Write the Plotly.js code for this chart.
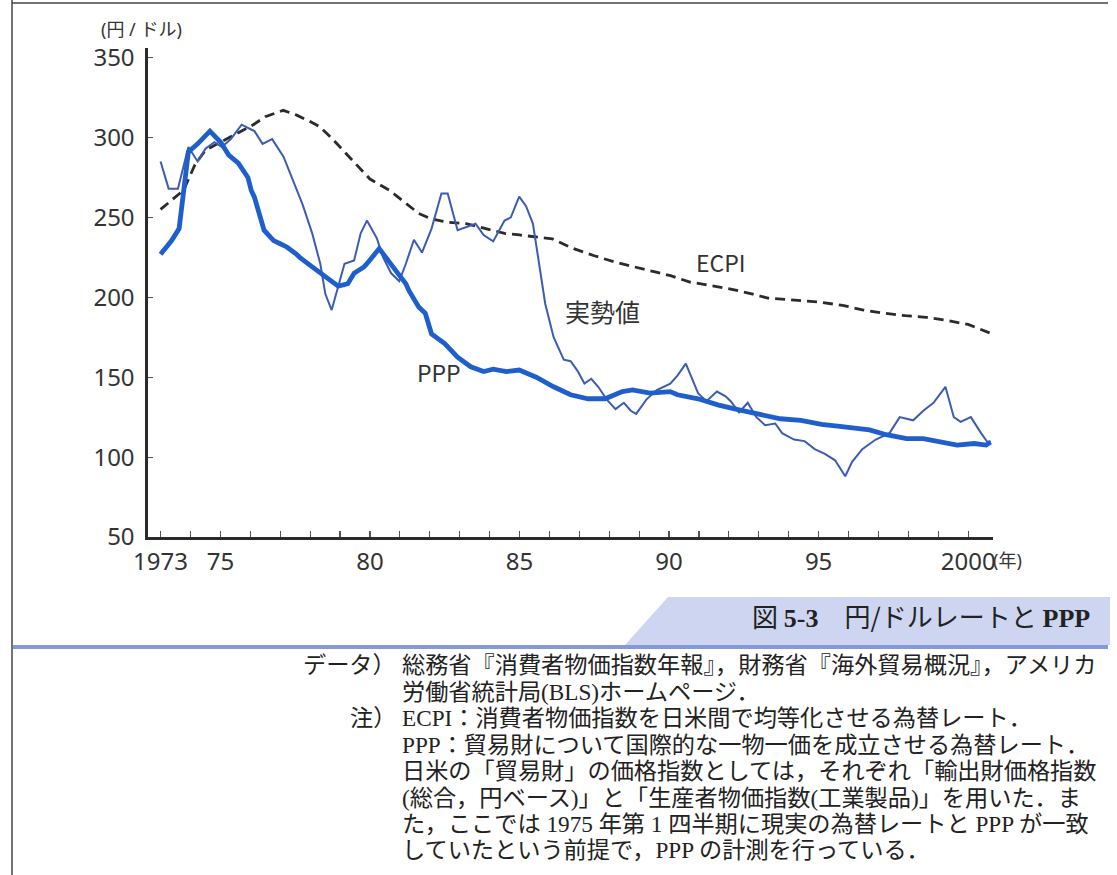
<!DOCTYPE html>
<html><head><meta charset="utf-8">
<script src="https://cdn.plot.ly/plotly-3.0.1.min.js"></script>
<style>html,body{margin:0;padding:0;background:#fff;} #chart{width:1117px;height:875px;}</style>
</head><body><div id="chart"></div>
<script>
// ---- data ----
const actualYears = [1973.0,1973.27,1973.58,1973.93,1974.24,1974.5,1974.8,1975.05,1975.35,1975.71,1976.03,1976.14,1976.41,1976.73,1977.11,1977.43,1977.75,1978.07,1978.34,1978.51,1978.72,1979.15,1979.47,1979.69,1979.9,1980.23,1980.44,1980.71,1980.98,1981.2,1981.47,1981.74,1982.06,1982.39,1982.6,1982.93,1983.25,1983.53,1983.8,1984.12,1984.5,1984.71,1984.99,1985.22,1985.45,1985.68,1985.86,1986.14,1986.48,1986.71,1986.94,1987.17,1987.4,1987.63,1987.92,1988.21,1988.49,1988.72,1988.9,1989.24,1989.59,1990.04,1990.28,1990.56,1990.97,1991.25,1991.6,1991.89,1992.06,1992.34,1992.63,1992.92,1993.21,1993.55,1993.78,1994.18,1994.53,1994.87,1995.21,1995.55,1995.89,1996.12,1996.46,1996.91,1997.37,1997.71,1998.16,1998.5,1998.84,1999.24,1999.52,1999.75,2000.09,2000.43,2000.66,2000.75];
const actualValues = [285,268,268,294,285,293,297,294,299,308,305,304,296,299,288,273,258,240,221,202,192,221,223,240,248,237,225,215,210,221,236,228,243,265,265,242,244,246,239,235,248,250,263,257,246,219,196,175,161,160,154,146,149,144,136,130,134,129,127,136,142,146,151,158.5,140,135,141,138,135,128,134,125,120,121,115,111,110,105,102,98,88,97,105,111,115,125,123,129,134,144,125,122,125,115,109,110];

const pppYears = [1973.0,1973.37,1973.62,1973.93,1974.24,1974.65,1975.01,1975.28,1975.6,1975.92,1976.03,1976.14,1976.46,1976.78,1977.0,1977.22,1977.54,1977.65,1978.07,1978.51,1978.94,1979.26,1979.47,1979.8,1979.9,1980.31,1980.66,1980.77,1981.2,1981.31,1981.63,1981.85,1982.06,1982.5,1982.93,1983.37,1983.8,1984.12,1984.56,1984.99,1985.56,1986.14,1986.71,1987.29,1987.86,1988.44,1988.78,1989.36,1990.04,1990.28,1990.97,1991.66,1992.34,1993.03,1993.72,1994.41,1995.1,1995.78,1996.7,1997.26,1997.94,1998.5,1999.07,1999.63,2000.2,2000.6,2000.75];
const pppValues = [227,235.5,243,291,296,304,297,289,284,275,267,262.5,242,235.5,233.5,231.5,227,225,219,212.5,207,208.5,215,219,221,230.5,221,219,208.5,204,194,190,177,171,162.5,156.5,153.5,155,153.5,154.5,150,144,139,136.5,136.5,141,142,140,141,139,136.5,132.5,129.5,126.5,124,123,120.5,119,117,114,111.5,111.5,109.5,107.5,108.5,107.5,109.5];

const ecpiYears = [1973.0,1973.77,1974.15,1974.5,1974.9,1975.28,1975.6,1976.1,1976.5,1977.1,1977.55,1978.0,1978.3,1978.7,1979.2,1979.5,1980.0,1980.65,1981.1,1981.63,1982.06,1982.6,1983.25,1983.9,1984.5,1985.0,1985.6,1986.1,1986.8,1987.5,1988.2,1988.9,1989.5,1990.05,1990.7,1991.5,1992.1,1992.8,1993.3,1994.0,1995.0,1995.8,1996.5,1997.2,1997.9,1998.6,1999.3,2000.0,2000.75];
const ecpiValues = [255,267,283,292,296,300,303,308,313,317,314,310,307,300,290,284,274,267,260.5,252.5,249,247,246,243,240,239,237.5,236.5,230.5,226,222,219,216,213.5,209.5,207,205,202,199.5,198.5,197,195,192,190,188.5,187.5,185.5,183,177.5];

const yTickValues = [50,100,150,200,250,300,350];
const xTickYears = [1973,1974,1975,1976,1977,1978,1979,1980,1981,1982,1983,1984,1985,1986,1987,1988,1989,1990,1991,1992,1993,1994,1995,1996,1997,1998,1999,2000];
const xTickLabelMap = {1973:'1973',1975:'75',1980:'80',1985:'85',1990:'90',1995:'95',2000:'2000'};

const seriesNames = {ecpi:'ECPI', actual:'実勢値', ppp:'PPP'};
const yUnitLabel = '(円 / ドル)';
const xUnitLabel = '(年)';
const captionText = '図 <span style="font-family:Liberation Serif;font-weight:bold">5-3</span>　円/ドルレートと <span style="font-family:Liberation Serif;font-weight:bold">PPP</span>';
const notePrefixes = [['データ）',0],['注）',2]];
const noteLines = [
  '総務省『消費者物価指数年報』，財務省『海外貿易概況』，アメリカ',
  '労働省統計局(BLS)ホームページ．',
  'ECPI：消費者物価指数を日米間で均等化させる為替レート．',
  'PPP：貿易財について国際的な一物一価を成立させる為替レート．',
  '日米の「貿易財」の価格指数としては，それぞれ「輸出財価格指数',
  '(総合，円ベース)」と「生産者物価指数(工業製品)」を用いた．ま',
  'た，ここでは 1975 年第 1 四半期に現実の為替レートと PPP が一致',
  'していたという前提で，PPP の計測を行っている．'
];

// ---- layout helpers (pixel -> paper) ----
const W=1117, H=875, L=148, R=993, T=48, B=537;
const px = x => (x-L)/(R-L);
const py = y => (B-y)/(B-T);
const sans = 'Noto Sans CJK JP, Noto Sans, sans-serif';
const latin = 'Noto Sans, Noto Sans CJK JP, sans-serif';
const notesFont = 'Liberation Serif, Noto Sans CJK JP, serif';
const txt = '#333';

const traces = [
  {x: ecpiYears, y: ecpiValues, mode:'lines', name: seriesNames.ecpi,
   line:{color:'#2b2b2b', width:2.8, dash:'10px,6px'}},
  {x: actualYears, y: actualValues, mode:'lines', name: seriesNames.actual,
   line:{color:'#3c5cb4', width:2}},
  {x: pppYears, y: pppValues, mode:'lines', name: seriesNames.ppp,
   line:{color:'#1f5fcc', width:4.8}}
];

const annotations = [
  {xref:'x', yref:'y', x:1991.74, y:222, text:seriesNames.ecpi, showarrow:false, font:{family:sans,size:23,color:txt}},
  {xref:'x', yref:'y', x:1987.79, y:191.4, text:seriesNames.actual, showarrow:false, font:{family:sans,size:25,color:txt}},
  {xref:'x', yref:'y', x:1982.31, y:153.3, text:seriesNames.ppp, showarrow:false, font:{family:sans,size:23,color:txt}},
  {xref:'paper', yref:'paper', x:px(141), y:py(29), xanchor:'center', yanchor:'middle', text:yUnitLabel, showarrow:false, font:{family:latin,size:18,color:txt}},
  {xref:'paper', yref:'paper', x:px(991), y:py(560), xanchor:'left', yanchor:'middle', text:xUnitLabel, showarrow:false, font:{family:latin,size:18,color:txt}},
  {xref:'paper', yref:'paper', x:px(1092), y:py(615), xanchor:'right', yanchor:'middle', text:captionText, showarrow:false, font:{family:sans,size:26,color:'#222'}}
];
const lineY = [665,692,718,745,771,798,824,850];
noteLines.forEach((s,i)=>annotations.push({xref:'paper', yref:'paper', x:px(400), y:py(lineY[i]), xanchor:'left', yanchor:'middle', text:s, showarrow:false, font:{family:notesFont,size:23.2,color:'#222'}}));
notePrefixes.forEach(([s,i])=>annotations.push({xref:'paper', yref:'paper', x:px(398), y:py(lineY[i]), xanchor:'right', yanchor:'middle', text:s, showarrow:false, font:{family:notesFont,size:23.2,color:'#222'}}));

const shapes = [
  {type:'path', xref:'paper', yref:'paper', layer:'below',
   path:`M ${px(625)},${py(645)} L ${px(668)},${py(597)} L ${px(1110)},${py(597)} L ${px(1110)},${py(645)} Z`,
   fillcolor:'#cdd5f1', line:{width:0}},
  {type:'line', xref:'paper', yref:'paper', x0:px(13), x1:px(1108), y0:py(647), y1:py(647), line:{color:'#8299dc', width:4}},
  {type:'line', xref:'paper', yref:'paper', x0:px(12), x1:px(12), y0:py(0), y1:py(875), line:{color:'#444', width:1.5}},
  {type:'line', xref:'paper', yref:'paper', x0:px(12), x1:px(1108), y0:py(3), y1:py(3), line:{color:'#444', width:1.5}}
];

const layout = {
  width:W, height:H, margin:{l:L, r:W-R, t:T, b:H-B},
  paper_bgcolor:'#fff', plot_bgcolor:'rgba(0,0,0,0)', showlegend:false,
  xaxis:{range:[1972.58,2000.83], tickmode:'array', tickvals:xTickYears,
    ticktext:xTickYears.map(y=>xTickLabelMap[y]||''), ticks:'inside', ticklen:6, tickwidth:1.2, tickcolor:'#555',
    showline:true, linewidth:2.6, linecolor:'#2b2b2b', showgrid:false, zeroline:false,
    tickfont:{family:latin, size:24, color:txt}, ticklabelstandoff:2},
  yaxis:{range:[50,356], tickmode:'array', tickvals:yTickValues, ticks:'inside', ticklen:5, tickwidth:1.2, tickcolor:'#555',
    showline:true, linewidth:2.6, linecolor:'#2b2b2b', showgrid:false, zeroline:false,
    tickfont:{family:latin, size:24, color:txt}, ticklabelstandoff:6},
  annotations, shapes
};
Plotly.newPlot('chart', traces, layout, {displayModeBar:false, staticPlot:true});
</script></body></html>
